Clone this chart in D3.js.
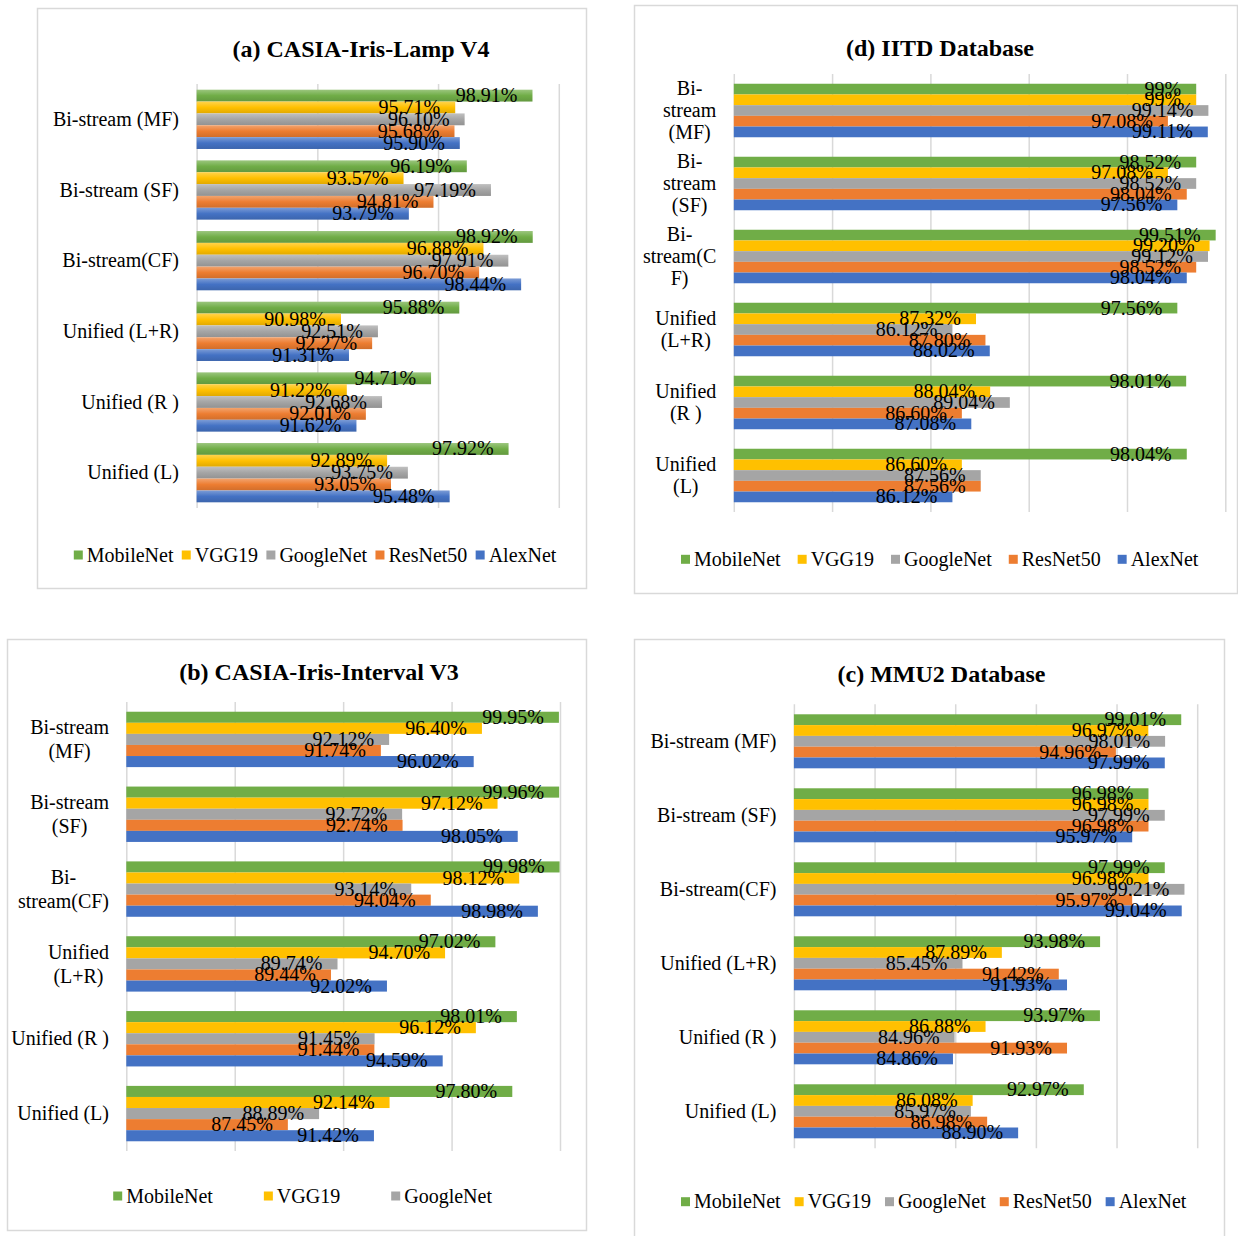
<!DOCTYPE html>
<html><head><meta charset="utf-8">
<script src="https://cdn.jsdelivr.net/npm/d3@7"></script>
<style>
body{margin:0;background:#fff}
svg text{font-family:"Liberation Serif","Times New Roman",serif;white-space:pre;fill:#000}
</style>
</head><body>
<svg id="chart" width="1238" height="1236"></svg>
<script>
// ---------- data ----------
const seriesNames = ["MobileNet","VGG19","GoogleNet","ResNet50","AlexNet"];
const seriesColors = ["#70AD47","#FFC000","#A5A5A5","#ED7D31","#4472C4"];

const categoriesA = [["Bi-stream (MF)"],["Bi-stream (SF)"],["Bi-stream(CF)"],["Unified (L+R)"],["Unified (R )"],["Unified (L)"]];
const categoriesB = [["Bi-stream","(MF)"],["Bi-stream","(SF)"],["Bi-","stream(CF)"],["Unified","(L+R)"],["Unified (R )"],["Unified (L)"]];
const categoriesC = [["Bi-stream (MF)"],["Bi-stream (SF)"],["Bi-stream(CF)"],["Unified (L+R)"],["Unified (R )"],["Unified (L)"]];
const categoriesD = [["Bi-","stream","(MF)"],["Bi-","stream","(SF)"],["Bi-","stream(C","F)"],["Unified","(L+R)"],["Unified","(R )"],["Unified","(L)"]];

// values per series (MobileNet, VGG19, GoogleNet, ResNet50, AlexNet), categories in order above
const valuesA = [
  [98.91, 96.19, 98.92, 95.88, 94.71, 97.92],
  [95.71, 93.57, 96.88, 90.98, 91.22, 92.89],
  [96.10, 97.19, 97.91, 92.51, 92.68, 93.75],
  [95.68, 94.81, 96.70, 92.27, 92.01, 93.05],
  [95.90, 93.79, 98.44, 91.31, 91.62, 95.48]
];
const valuesB = [
  [99.95, 99.96, 99.98, 97.02, 98.01, 97.80],
  [96.40, 97.12, 98.12, 94.70, 96.12, 92.14],
  [92.12, 92.72, 93.14, 89.74, 91.45, 88.89],
  [91.74, 92.74, 94.04, 89.44, 91.44, 87.45],
  [96.02, 98.05, 98.98, 92.02, 94.59, 91.42]
];
const valuesC = [
  [99.01, 96.98, 97.99, 93.98, 93.97, 92.97],
  [96.97, 96.98, 96.98, 87.89, 86.88, 86.08],
  [98.01, 97.99, 99.21, 85.45, 84.96, 85.97],
  [94.96, 96.98, 95.97, 91.42, 91.93, 86.98],
  [97.99, 95.97, 99.04, 91.93, 84.86, 88.90]
];
const valuesD = [
  [98.52, 98.52, 99.51, 97.56, 98.01, 98.04],
  [98.52, 97.08, 99.20, 87.32, 88.04, 86.60],
  [99.14, 98.52, 99.12, 86.12, 89.04, 87.56],
  [97.08, 98.04, 98.52, 87.80, 86.60, 87.56],
  [99.11, 97.56, 98.04, 88.02, 87.08, 86.12]
];
// labels printed in panel (d) where they differ from bar length
const labelsDMobileNet = ["99%","98.52%","99.51%","97.56%","98.01%","98.04%"];
const labelsDVGG19 = ["99%","97.08%","99.20%","87.32%","88.04%","86.60%"];

const axisA = [85, 100];
const axisB = [80, 100];
const axisC = [75, 100];
const axisD = [75, 100];
const tickStep = 5;

const legendA = ["MobileNet","VGG19","GoogleNet","ResNet50","AlexNet"];
const legendB = ["MobileNet","VGG19","GoogleNet"];
const legendC = ["MobileNet","VGG19","GoogleNet","ResNet50","AlexNet"];
const legendD = ["MobileNet","VGG19","GoogleNet","ResNet50","AlexNet"];

// ---------- layout ----------
const panels = [
  {title:"(a) CASIA-Iris-Lamp V4", tx:361, ty:57, box:[37,8,586,588], xr:[196.6,558.8], yr:[84,508], pad:0.161,
   cats:categoriesA, vals:valuesA, dom:axisA, catRight:179, lineH:23, leg:legendA, lx:73.8, ly:555, lgap:8.3, grad:true},
  {title:"(b) CASIA-Iris-Interval V3", tx:319, ty:680, box:[7,639,586,1230], xr:[126.3,560], yr:[702,1151], pad:0.26,
   cats:categoriesB, vals:valuesB, dom:axisB, catRight:109, lineH:24, leg:legendB, lx:113.2, ly:1196, lgap:51, grad:false},
  {title:"(c) MMU2 Database", tx:941.5, ty:682, box:[634,639,1224,1240], xr:[793.9,1197.2], yr:[704.3,1148.3], pad:0.27,
   cats:categoriesC, vals:valuesC, dom:axisC, catRight:776.5, lineH:23, leg:legendC, lx:681, ly:1201.7, lgap:14, grad:false},
  {title:"(d) IITD Database", tx:940, ty:56, box:[634,5,1237,593], xr:[733.8,1225.3], yr:[74,512], pad:0.267,
   cats:categoriesD, vals:valuesD, dom:axisD, catRight:716.3, lineH:22, leg:legendD, lx:681, ly:559.3, lgap:17, grad:false,
   labels:[labelsDMobileNet, labelsDVGG19]}
];

const svg = d3.select("#chart");
svg.append("rect").attr("width",1238).attr("height",1236).attr("fill","#fff");

// gradients for panel (a)
const defs = svg.append("defs");
seriesColors.forEach((c,i)=>{
  const base = d3.color(c);
  const lg = defs.append("linearGradient").attr("id","grad"+i).attr("x1",0).attr("y1",0).attr("x2",0).attr("y2",1);
  lg.append("stop").attr("offset","0%").attr("stop-color", d3.interpolateRgb(c,"#fff")(0.3));
  lg.append("stop").attr("offset","50%").attr("stop-color", c);
  lg.append("stop").attr("offset","100%").attr("stop-color", base.darker(0.35).formatHex());
});

const fmt = v => v.toFixed(2) + "%";

panels.forEach(p=>{
  const g = svg.append("g");
  g.append("rect").attr("x",p.box[0]+0.5).attr("y",p.box[1]+0.5)
    .attr("width",p.box[2]-p.box[0]).attr("height",p.box[3]-p.box[1])
    .attr("fill","#fff").attr("stroke","#d9d9d9").attr("stroke-width",1.5);
  g.append("text").attr("x",p.tx).attr("y",p.ty).attr("text-anchor","middle")
    .attr("font-size",24).attr("font-weight","bold").text(p.title);

  const x = d3.scaleLinear().domain(p.dom).range(p.xr);
  const y = d3.scaleBand().domain(d3.range(p.cats.length)).range(p.yr).paddingInner(p.pad).paddingOuter(p.pad/2);
  const ys = d3.scaleBand().domain(seriesNames).range([0, y.bandwidth()]);
  const ticks = d3.range(p.dom[0], p.dom[1] + 0.001, tickStep);

  // gridlines via axis
  const ax = g.append("g").attr("transform",`translate(0,${p.yr[1]})`)
    .call(d3.axisBottom(x).tickValues(ticks).tickSize(-(p.yr[1]-p.yr[0])).tickFormat(""));
  ax.select(".domain").remove();
  ax.selectAll(".tick line").attr("stroke","#d9d9d9").attr("stroke-width",1.5);

  // bars
  const barData = [];
  p.vals.forEach((arr,si)=>arr.forEach((v,ci)=>{
    let lab = fmt(v);
    if (p.labels && p.labels[si]) lab = p.labels[si][ci];
    barData.push({si, ci, v, lab});
  }));
  g.selectAll("rect.bar").data(barData).join("rect").attr("class","bar")
    .attr("x", x(p.dom[0]))
    .attr("y", d=>y(d.ci)+ys(seriesNames[d.si]))
    .attr("width", d=>x(d.v)-x(p.dom[0]))
    .attr("height", ys.bandwidth())
    .attr("fill", d=> p.grad ? `url(#grad${d.si})` : seriesColors[d.si]);

  // data labels
  g.selectAll("text.lab").data(barData).join("text").attr("class","lab")
    .attr("x", d=>x(d.v)-15)
    .attr("y", d=>y(d.ci)+ys(seriesNames[d.si])+ys.bandwidth()/2+6.5)
    .attr("text-anchor","end").attr("font-size",20).text(d=>d.lab);

  // category labels
  p.cats.forEach((lines,ci)=>{
    const cy = y(ci)+y.bandwidth()/2;
    const ts = lines.map((ln,i)=> g.append("text").attr("font-size",20).attr("text-anchor","middle")
      .attr("y", cy + (i-(lines.length-1)/2)*p.lineH + 6.6).text(ln));
    const w = d3.max(ts, t=>t.node().getComputedTextLength());
    ts.forEach(t=>t.attr("x", p.catRight - w/2));
  });

  // legend
  let lx = p.lx;
  p.leg.forEach(name=>{
    const si = seriesNames.indexOf(name);
    g.append("rect").attr("x",lx).attr("y",p.ly-4.5).attr("width",9).attr("height",9).attr("fill",seriesColors[si]);
    const t = g.append("text").attr("x",lx+13).attr("y",p.ly+6.5).attr("font-size",20).text(name);
    lx += 13 + t.node().getComputedTextLength() + p.lgap;
  });
});
</script>
</body></html>
